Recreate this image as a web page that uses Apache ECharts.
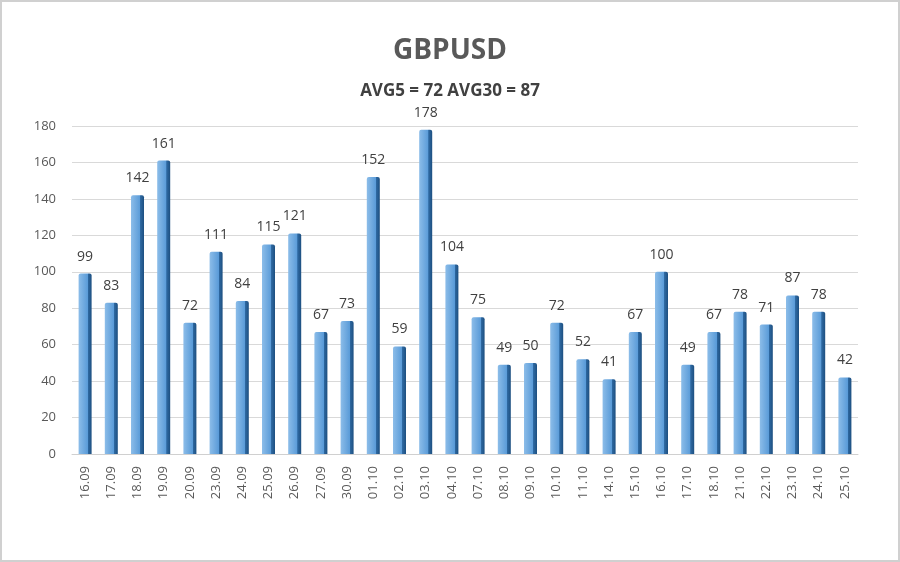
<!DOCTYPE html>
<html>
<head>
    <meta charset="utf-8">
    <title>GBPUSD</title>
    <script src="https://cdn.jsdelivr.net/npm/echarts@6/dist/echarts.min.js"></script>
    <style>
        html, body { margin: 0; padding: 0; background: #fff; }
        #chart {
            width: 896px;
            height: 558px;
            border: 2px solid #d0d0d0;
        }
    </style>
</head>
<body>
    <div id="chart"></div>
    <script>
        var days = ['16.09', '17.09', '18.09', '19.09', '20.09', '23.09', '24.09', '25.09', '26.09', '27.09',
            '30.09', '01.10', '02.10', '03.10', '04.10', '07.10', '08.10', '09.10', '10.10', '11.10',
            '14.10', '15.10', '16.10', '17.10', '18.10', '21.10', '22.10', '23.10', '24.10', '25.10'];
        var ranges = [99, 83, 142, 161, 72, 111, 84, 115, 121, 67,
            73, 152, 59, 178, 104, 75, 49, 50, 72, 52,
            41, 67, 100, 49, 67, 78, 71, 87, 78, 42];
        var yTicks = [0, 20, 40, 60, 80, 100, 120, 140, 160, 180];

        var chart = echarts.init(document.getElementById('chart'));
        chart.setOption({
            animation: false,
            title: [{
                text: 'GBPUSD',
                left: 'center',
                top: 30,
                textStyle: { fontFamily: 'Open Sans', fontSize: 28, fontWeight: 'bold', color: '#595959' }
            }, {
                text: 'AVG5 = 72 AVG30 = 87',
                left: 'center',
                top: 76,
                textStyle: { fontFamily: 'Open Sans', fontSize: 17, fontWeight: 'bold', color: '#404040' }
            }],
            grid: { left: 70, right: 40, top: 124, bottom: 106 },
            xAxis: {
                type: 'category',
                data: days,
                axisTick: { show: false },
                axisLine: { lineStyle: { color: '#d0d0d0' } },
                axisLabel: { rotate: 90, margin: 12, fontFamily: 'Open Sans', fontSize: 13, color: '#595959' }
            },
            yAxis: {
                type: 'value',
                min: yTicks[0],
                max: yTicks[yTicks.length - 1],
                interval: 20,
                axisLine: { show: false },
                axisTick: { show: false },
                splitLine: { lineStyle: { color: '#d9d9d9' } },
                axisLabel: { margin: 16, fontFamily: 'Open Sans', fontSize: 13, color: '#595959' }
            },
            series: [{
                type: 'bar',
                data: ranges,
                barWidth: 13,
                itemStyle: {
                    color: new echarts.graphic.LinearGradient(0, 0, 1, 0, [
                        { offset: 0, color: '#8cbde9' },
                        { offset: 0.7, color: '#5a9bd8' },
                        { offset: 0.72, color: '#2f6aa3' },
                        { offset: 1, color: '#1d4f80' }
                    ]),
                    borderRadius: [2, 2, 0, 0]
                },
                label: {
                    show: true,
                    position: 'top',
                    distance: 10,
                    fontFamily: 'Open Sans',
                    fontSize: 14,
                    color: '#404040'
                }
            }]
        });
    </script>
</body>
</html>
